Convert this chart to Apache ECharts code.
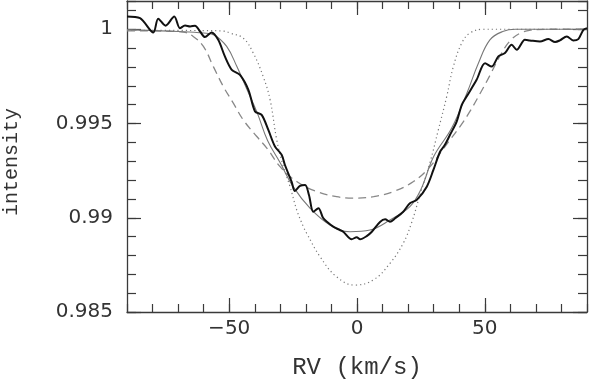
<!DOCTYPE html>
<html>
<head>
<meta charset="utf-8">
<script src="https://cdn.jsdelivr.net/npm/echarts@6/dist/echarts.min.js"></script>
<style>
  html, body { margin: 0; padding: 0; background: #fff; }
  #chart { width: 589px; height: 382px; }
</style>
</head>
<body>
<div id="chart"></div>
<script>
// observed profile (thick black)
const rvObs = [-90, -84.9, -79.7, -77.8, -74.9, -71.5, -69.3, -67.3, -65.3, -63.4, -61.4, -59.5, -56.9, -54.3, -51.7, -49.0, -45.8, -42.5, -39.9, -37.3, -34.7, -32.1, -29.5, -28.2, -25.6, -24.3, -22.3, -20.3, -18.8, -17.1, -15.1, -13.3, -11.9, -9.3, -6.7, -5.4, -2.1, -0.1, 1.2, 3.8, 5.8, 9.0, 11.0, 12.9, 14.9, 18.1, 20.7, 23.4, 27.3, 29.9, 32.5, 34.4, 36.4, 39.0, 41.0, 42.9, 46.8, 50.1, 52.7, 55.3, 57.9, 60.5, 62.5, 65.7, 67.6, 71.6, 74.9, 77.5, 79.4, 82.1, 84.6, 86.6, 88.6, 90];
const intObs = [1.00068, 1.00059, 0.99983, 1.00056, 1.00019, 1.00068, 1.00006, 1.0002, 1.00015, 1.00019, 0.99988, 0.99959, 0.99983, 0.99944, 0.99856, 0.99785, 0.99758, 0.99679, 0.99564, 0.99546, 0.99466, 0.99378, 0.99334, 0.9928, 0.99192, 0.99142, 0.99169, 0.99174, 0.99121, 0.99032, 0.99051, 0.99, 0.9898, 0.98953, 0.98935, 0.98926, 0.98886, 0.98897, 0.98886, 0.98903, 0.98926, 0.98978, 0.98992, 0.98979, 0.98997, 0.99032, 0.99077, 0.99095, 0.99165, 0.99254, 0.9935, 0.99387, 0.9944, 0.9951, 0.99599, 0.99643, 0.99732, 0.9982, 0.99802, 0.99856, 0.99874, 0.99918, 0.99891, 0.99944, 0.99941, 0.99935, 0.99948, 0.99932, 0.99941, 0.99962, 0.99941, 0.99948, 0.99997, 1.00006];

// best-fit model (thin grey)
const rvFit = [-90, -70, -60, -56, -51, -47, -43, -39, -35, -30, -25, -18.4, -10.6, -2.7, 5.1, 12.9, 20.7, 25, 30, 37, 43, 47.5, 52, 57, 62, 70, 90];
const intFit = [0.99998, 0.99988, 0.9998, 0.9997, 0.99909, 0.99802, 0.99679, 0.99555, 0.9941, 0.9929, 0.99165, 0.99051, 0.98962, 0.98926, 0.98935, 0.98988, 0.99059, 0.9915, 0.99325, 0.99475, 0.99661, 0.9982, 0.99944, 0.99988, 1.0, 1.0, 1.0];

// broad model (dashed)
const rvBroad = [-90, -75, -68, -64.1, -60.1, -56.2, -52.3, -48.4, -44.5, -39.2, -35, -30.1, -23.6, -15.8, -8.0, -1.4, 6.5, 14.3, 22.1, 28.6, 34, 40.3, 44, 48, 52, 56, 60, 64, 68, 75, 90];
const intBroad = [0.99992, 0.9999, 0.99985, 0.99962, 0.99909, 0.99802, 0.99696, 0.99608, 0.99519, 0.99431, 0.99365, 0.99271, 0.99192, 0.99139, 0.99112, 0.99104, 0.99112, 0.99139, 0.99192, 0.99271, 0.9937, 0.99484, 0.9956, 0.99655, 0.99755, 0.9986, 0.9994, 0.9998, 0.99995, 1.0, 1.0];

// narrow model (dotted)
const rvNarrow = [-90, -60, -52, -49.7, -44.5, -40.6, -36.7, -34, -31.4, -28.8, -26.2, -23.6, -21, -19.7, -14.5, -8, -1, 6.4, 12.9, 18.1, 21.4, 24.6, 28.6, 31.8, 35.1, 37.7, 41, 44.2, 49.4, 60, 90];
const intNarrow = [0.99995, 0.99993, 0.9999, 0.9998, 0.99953, 0.99874, 0.99749, 0.99626, 0.99413, 0.99271, 0.99165, 0.99042, 0.98953, 0.98918, 0.98794, 0.98687, 0.98643, 0.9867, 0.98758, 0.98865, 0.98975, 0.9912, 0.99295, 0.99465, 0.99643, 0.99802, 0.99927, 0.9998, 1.0, 1.0, 1.0];

const xMajor = [-50, 0, 50];
const yMajor = [0.985, 0.99, 0.995, 1];

const X_MIN = -90, X_MAX = 90;
const Y_MIN = 0.985, Y_MAX = 1.0015;

const zip = (xs, ys) => xs.map((x, i) => [x, ys[i]]);

const frame = "#3a3a3a";
const labelFont = { fontFamily: "DejaVu Sans", fontSize: 20, color: "#333" };

function minorX(pos, withLabels) {
  return {
    type: "value", gridIndex: 0, position: pos, min: X_MIN, max: X_MAX, interval: 10,
    axisLine: { show: true, onZero: false, lineStyle: { color: frame, width: 1.3 } },
    axisTick: { show: true, inside: true, length: 8, lineStyle: { color: frame, width: 1.2 } },
    axisLabel: withLabels ? {
      show: true, interval: 0, margin: 7, ...labelFont,
      formatter: v => (v % 50 === 0 ? (v < 0 ? "\u2212" + Math.abs(v) : String(v)) : "")
    } : { show: false },
    splitLine: { show: false },
    ...(withLabels ? {
      name: "RV (km/s)", nameLocation: "middle", nameGap: 44,
      nameTextStyle: { fontFamily: "Liberation Mono", fontSize: 24, color: "#333" }
    } : {})
  };
}
function majorX(pos) {
  return {
    type: "value", gridIndex: 1, position: pos, min: X_MIN, max: X_MAX,
    axisLine: { show: false, onZero: false },
    axisTick: { show: true, inside: true, length: 14, customValues: xMajor, lineStyle: { color: frame, width: 1.2 } },
    axisLabel: { show: false }, splitLine: { show: false }
  };
}
function minorY(pos, withLabels) {
  return {
    type: "value", gridIndex: 0, position: pos, min: Y_MIN, max: Y_MAX, interval: 0.001,
    axisLine: { show: true, onZero: false, lineStyle: { color: frame, width: 1.3 } },
    axisTick: { show: true, inside: true, length: 9, lineStyle: { color: frame, width: 1.2 } },
    axisLabel: withLabels ? {
      show: true, interval: 0, margin: 14, ...labelFont,
      formatter: v => {
        const k = v * 200;
        return Math.abs(k - Math.round(k)) < 1e-6 ? String(parseFloat(v.toFixed(3))) : "";
      }
    } : { show: false },
    splitLine: { show: false },
    ...(withLabels ? {
      name: "intensity", nameLocation: "middle", nameGap: 105, nameRotate: 90,
      nameTextStyle: { fontFamily: "Liberation Mono", fontSize: 20, color: "#333", padding: [0, 11, 0, 0] }
    } : {})
  };
}
function majorY(pos) {
  return {
    type: "value", gridIndex: 1, position: pos, min: Y_MIN, max: Y_MAX,
    axisLine: { show: false, onZero: false },
    axisTick: { show: true, inside: true, length: 14, customValues: yMajor, lineStyle: { color: frame, width: 1.2 } },
    axisLabel: { show: false }, splitLine: { show: false }
  };
}

const gridBox = { left: 127, right: 2, top: 1, bottom: 70, containLabel: false, outerBoundsMode: "none" };

const chart = echarts.init(document.getElementById("chart"), null, { renderer: "canvas" });
chart.setOption({
  backgroundColor: "#fff",
  animation: false,
  grid: [{ ...gridBox }, { ...gridBox }],
  xAxis: [minorX("bottom", true), minorX("top", false), majorX("bottom"), majorX("top")],
  yAxis: [minorY("left", true), minorY("right", false), majorY("left"), majorY("right")],
  series: [
    {
      type: "line", xAxisIndex: 0, yAxisIndex: 0, data: zip(rvNarrow, intNarrow),
      smooth: 0.4, symbol: "none",
      lineStyle: { color: "#777", width: 1.2, type: [1.2, 3] }
    },
    {
      type: "line", xAxisIndex: 0, yAxisIndex: 0, data: zip(rvBroad, intBroad),
      smooth: 0.4, symbol: "none",
      lineStyle: { color: "#888", width: 1.3, type: [8, 5] }
    },
    {
      type: "line", xAxisIndex: 0, yAxisIndex: 0, data: zip(rvFit, intFit),
      smooth: 0.4, symbol: "none",
      lineStyle: { color: "#777", width: 1.1 }
    },
    {
      type: "line", xAxisIndex: 0, yAxisIndex: 0, data: zip(rvObs, intObs),
      smooth: 0.3, symbol: "none",
      lineStyle: { color: "#111", width: 2 }
    }
  ]
});
</script>
</body>
</html>
